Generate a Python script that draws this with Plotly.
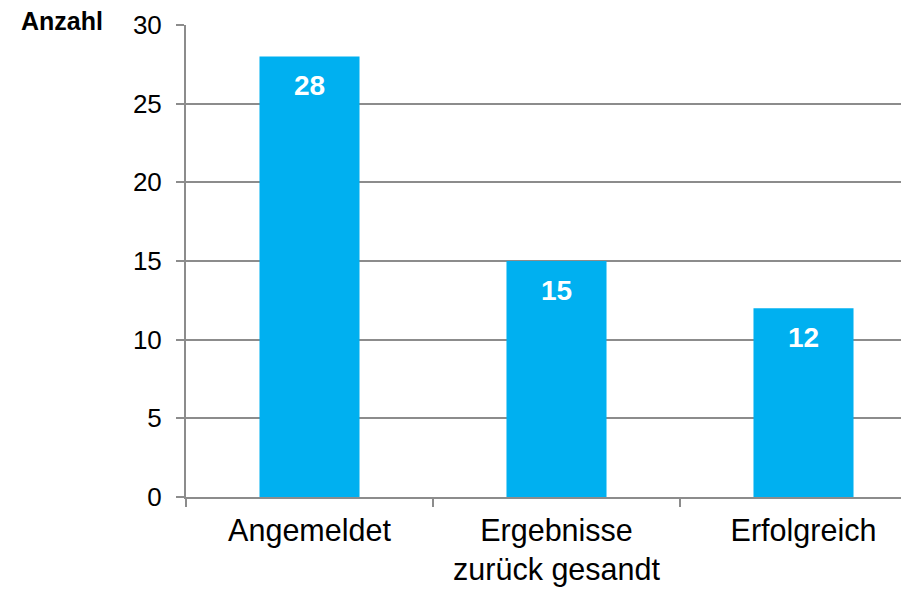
import plotly.graph_objects as go

categories = ["Angemeldet", "Ergebnisse<br>zurück gesandt", "Erfolgreich"]
values = [28, 15, 12]
y_ticks = [0, 5, 10, 15, 20, 25, 30]

FONT = "Liberation Sans, Arial, sans-serif"

fig = go.Figure()
fig.add_trace(go.Bar(
    x=categories, y=values,
    marker=dict(color="#00B0F0", line=dict(width=0)),
    width=0.405,
    hoverinfo="x+y",
))

# value labels placed just inside the top of each bar
for c, v in zip(categories, values):
    fig.add_annotation(
        x=c, y=v, xref="x", yref="y",
        text=f"<b>{v}</b>", showarrow=False,
        yanchor="middle", yshift=-29,
        font=dict(family=FONT, size=28, color="white"),
    )

# page body has an 8px margin; compensate so the plot lands where the reference is
fig.update_layout(
    width=901, height=582,
    margin=dict(l=178, r=0, t=17, b=93, autoexpand=False),
    plot_bgcolor="white", paper_bgcolor="white",
    showlegend=False,
    font=dict(family=FONT, size=26, color="black"),
    xaxis=dict(
        type="category",
        range=[-0.5, -0.5 + 723 / 247],
        tickson="boundaries",
        ticks="outside", ticklen=8, tickcolor="#8c8c8c", tickwidth=1.5,
        showline=True, linecolor="#8c8c8c", linewidth=2,
        showgrid=False,
        tickfont=dict(family=FONT, size=30.5),
        ticklabelstandoff=5,
        automargin=False,
    ),
    yaxis=dict(
        range=[0, 30],
        tickvals=y_ticks,
        ticks="outside", ticklen=8, tickcolor="#8c8c8c", tickwidth=1.5,
        showline=True, linecolor="#8c8c8c", linewidth=2,
        showgrid=True, gridcolor="#8c8c8c", gridwidth=1.5,
        zeroline=False,
        tickfont=dict(family=FONT, size=26),
        ticklabelstandoff=9,
        automargin=False,
    ),
)

fig.add_annotation(
    text="<b>Anzahl</b>", xref="paper", yref="paper",
    x=-0.112, y=1.008, xanchor="right", yanchor="middle",
    showarrow=False, font=dict(family=FONT, size=25, color="black"),
)

fig.write_html("out.html")
